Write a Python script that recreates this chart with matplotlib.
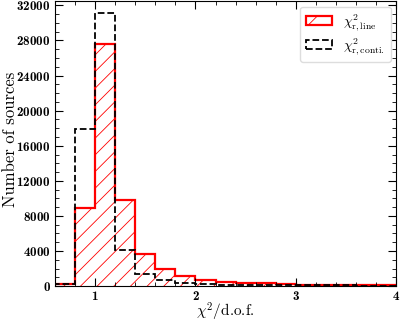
import numpy as np
import matplotlib
matplotlib.use('Agg')
import matplotlib.pyplot as plt
from matplotlib.patches import Patch
from matplotlib.ticker import MultipleLocator

plt.rcParams['font.family'] = 'cmr10'
plt.rcParams['mathtext.fontset'] = 'cm'
plt.rcParams['axes.formatter.use_mathtext'] = True
plt.rcParams['hatch.linewidth'] = 0.6

# bin edges in chi2/d.o.f.
edges = [0.6, 0.8, 1.0, 1.2, 1.4, 1.6, 1.8, 2.0, 2.2, 2.4,
         2.6, 2.8, 3.0, 3.2, 3.4, 3.6, 3.8, 4.0]

# counts per bin
n_line = [200, 8900, 27600, 9800, 3650, 1900, 1150, 700, 450,
          400, 380, 200, 180, 160, 140, 120, 110]
n_conti = [250, 17950, 31100, 4150, 1400, 650, 350, 230, 180,
           150, 130, 110, 100, 90, 80, 70, 60]

fig = plt.figure(figsize=(4.0, 3.19), dpi=100)
ax = fig.add_axes([0.1375, 0.103, 0.853, 0.894])

ax.stairs(n_line, edges, fill=True, facecolor='none', edgecolor='red',
          hatch='//', linewidth=1.6)
ax.stairs(n_conti, edges, color='k', linestyle='--', linewidth=1.3)

ax.set_xlim(0.6, 4.0)
ax.set_ylim(0, 32500)
ax.xaxis.set_major_locator(MultipleLocator(1))
ax.xaxis.set_minor_locator(MultipleLocator(0.2))
ax.yaxis.set_major_locator(MultipleLocator(4000))
ax.yaxis.set_minor_locator(MultipleLocator(1000))
ax.tick_params(which='both', direction='in', top=True, right=True)
ax.tick_params(which='major', length=6, width=0.8, pad=3)
ax.tick_params(which='minor', length=3, width=0.6)
for lab in ax.get_xticklabels() + ax.get_yticklabels():
    lab.set_fontfamily('cmb10')
    lab.set_fontsize(9.5)

ax.set_xlabel(r'$\chi^2$/d.o.f.', fontsize=11)
ax.xaxis.set_label_coords(0.5, -0.05)
ax.set_ylabel('Number of sources', fontsize=12)
ax.yaxis.set_label_coords(-0.108, 0.515)

handles = [Patch(facecolor='none', edgecolor='red', hatch='/', linewidth=1.6),
           Patch(facecolor='none', edgecolor='k', linestyle='--', linewidth=1.3)]
ax.legend(handles, [r'$\chi^2_{\rm r,line}$', r'$\chi^2_{\rm r,conti.}$'],
          loc='upper right', fontsize=10, framealpha=1, edgecolor='#dddddd',
          labelspacing=0.25, handlelength=1.9, borderpad=0.4,
          handletextpad=0.8, borderaxespad=0.4)

fig.savefig('out.png', dpi=100)
